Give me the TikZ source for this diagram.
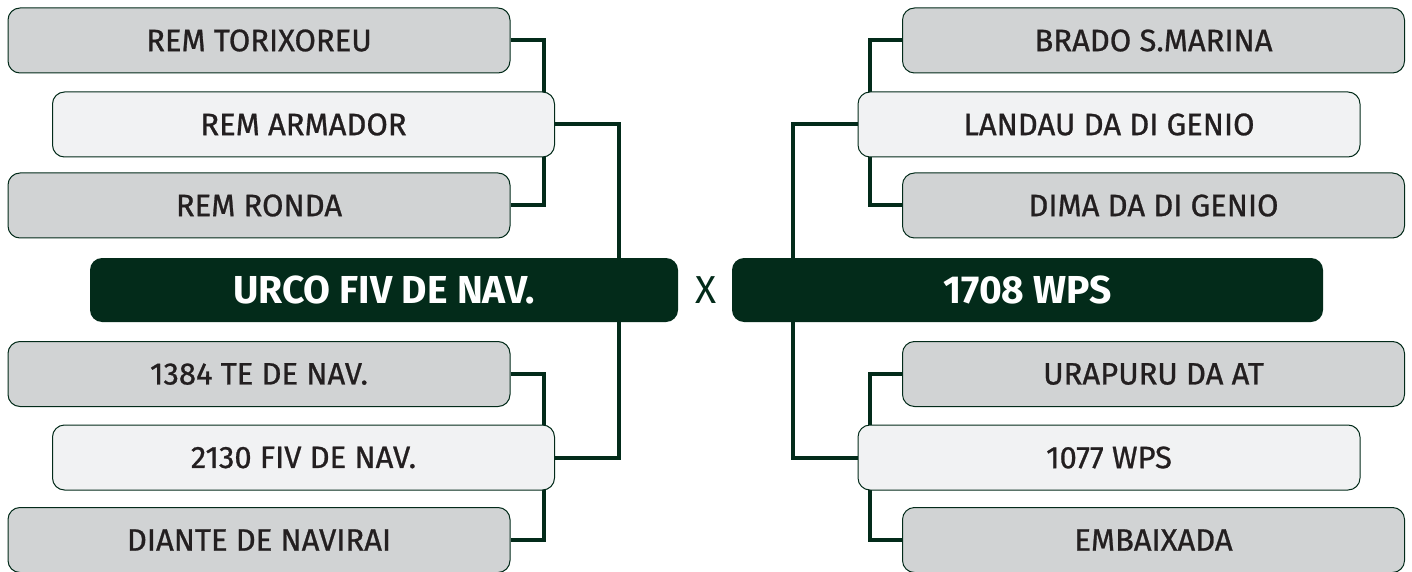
\documentclass[tikz,border=0pt]{standalone}
\usepackage{fontspec}
\setmainfont{Fira Sans}
\newfontfamily\seedfont{Fira Sans}[FakeBold=0.8]
\usepackage{tikz}
\usetikzlibrary{calc,backgrounds}
\definecolor{bracketGreen}{RGB}{3,43,26}
\definecolor{boxGray}{RGB}{209,211,212}
\definecolor{boxLight}{RGB}{241,242,243}
\definecolor{txtDark}{RGB}{35,31,32}

\begin{document}
\begin{tikzpicture}[x=0.5pt, y=-0.5pt,
    seedbox/.style={draw=bracketGreen, line width=0.5pt, fill=boxGray, rounded corners=6pt,
        minimum width=251pt, minimum height=32.5pt, text=txtDark, font=\seedfont\fontsize{15.5}{18}\selectfont},
    hostbox/.style={seedbox, fill=boxLight},
    finalbox/.style={fill=bracketGreen, rounded corners=6pt, minimum height=32pt,
        text=white, font=\fontsize{19.5}{22}\selectfont\bfseries},
    link/.style={draw=bracketGreen, line width=2pt}]
\useasboundingbox (0,0) rectangle (1412,572);

% left side
\node[seedbox] (lt1) at (259,40.5) {REM TORIXOREU};
\node[hostbox] (lt2) at (303.5,124.5) {REM ARMADOR};
\node[seedbox] (lt3) at (259,205.5) {REM RONDA};
\node[seedbox] (lb1) at (259,374) {1384 TE DE NAV.};
\node[hostbox] (lb2) at (303.5,457.5) {2130 FIV DE NAV.};
\node[seedbox] (lb3) at (259,540) {DIANTE DE NAVIRAI};

% right side
\node[seedbox] (rt1) at (1153.5,40.5) {BRADO S.MARINA};
\node[hostbox] (rt2) at (1109,124.5) {LANDAU DA DI GENIO};
\node[seedbox] (rt3) at (1153.5,205.5) {DIMA DA DI GENIO};
\node[seedbox] (rb1) at (1153.5,374) {URAPURU DA AT};
\node[hostbox] (rb2) at (1109,457.5) {1077 WPS};
\node[seedbox] (rb3) at (1153.5,540) {EMBAIXADA};

% final
\node[finalbox, minimum width=294pt] (fl) at (384,290) {URCO FIV DE NAV.};
\node[finalbox, minimum width=295.5pt] (fr) at (1027.5,290) {1708 WPS};
\node[text=bracketGreen, font=\fontsize{19.5}{22}\selectfont] (vs) at (706,290) {X};

\coordinate (jl) at (619,290);
\coordinate (jr) at (793,290);

\begin{scope}[on background layer]
\draw[link] (lt1.east) -- ++(33,0) |- (lt3.east);
\draw[link] (lb1.east) -- ++(33,0) |- (lb3.east);
\draw[link] (rt1.west) -- ++(-32,0) |- (rt3.west);
\draw[link] (rb1.west) -- ++(-32,0) |- (rb3.west);
\draw[link] (lt2.east) -| (jl) |- (lb2.east);
\draw[link] (rt2.west) -| (jr) |- (rb2.west);
\end{scope}
\end{tikzpicture}
\end{document}
